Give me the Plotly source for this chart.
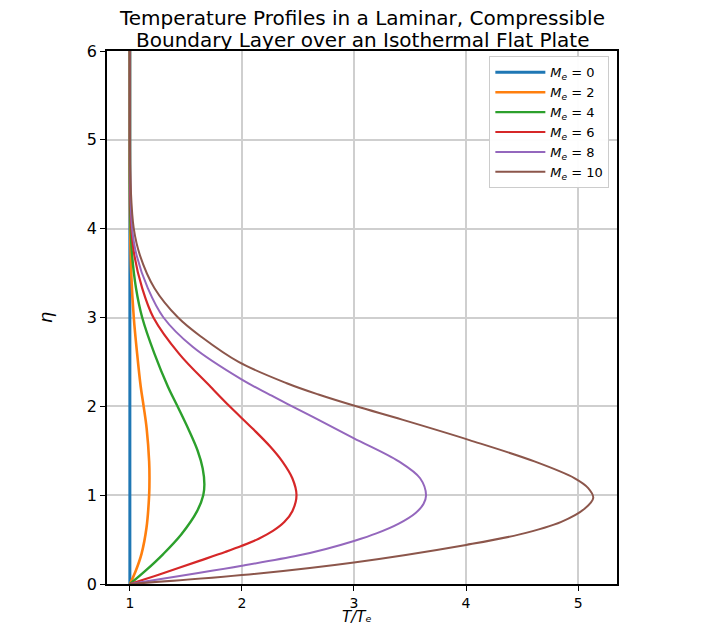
import plotly.graph_objects as go

mach_labels = ["0", "2", "4", "6", "8", "10"]
colors = ["#1f77b4", "#ff7f0e", "#2ca02c", "#d62728", "#9467bd", "#8c564b"]
widths = [3, 2.6, 2.4, 2.2, 2.0, 2.0]

# temperature ratio T/Te and similarity coordinate eta
T_m0 = [1.0, 1.0]
eta_m0 = [0.0, 6.0]

T_m2 = [1.0, 1.053, 1.104, 1.148, 1.172, 1.175, 1.172, 1.15, 1.123, 1.097, 1.065, 1.035, 1.012, 1.003, 1.0, 1.0]
eta_m2 = [0.0, 0.15, 0.34, 0.63, 1.0, 1.2, 1.38, 1.75, 2.0, 2.22, 2.59, 3.0, 3.5, 4.0, 4.5, 6.0]

T_m4 = [1.0, 1.14, 1.30, 1.46, 1.60, 1.655, 1.665, 1.65, 1.605, 1.52, 1.425, 1.34, 1.22, 1.11, 1.055, 1.02, 1.007, 1.0, 1.0]
eta_m4 = [0.0, 0.15, 0.34, 0.56, 0.82, 1.0, 1.12, 1.3, 1.5, 1.75, 2.0, 2.22, 2.59, 3.0, 3.33, 3.7, 4.0, 4.5, 6.0]

T_m6 = [1.0, 1.27, 1.62, 1.85, 2.0, 2.15, 2.28, 2.38, 2.45, 2.487, 2.45, 2.36, 2.25, 2.095, 1.89, 1.72, 1.44, 1.21, 1.11, 1.04, 1.014, 1.002, 1.0, 1.0]
eta_m6 = [0.0, 0.11, 0.26, 0.36, 0.43, 0.51, 0.6, 0.7, 0.82, 1.0, 1.19, 1.38, 1.55, 1.75, 2.0, 2.22, 2.59, 3.0, 3.33, 3.7, 4.0, 4.5, 5.0, 6.0]

T_m8 = [1.0, 2.0, 2.5, 2.75, 3.0, 3.2, 3.4, 3.55, 3.62, 3.643, 3.59, 3.40, 3.0, 2.68, 2.40, 2.25, 2.0, 1.56, 1.30, 1.16, 1.06, 1.02, 1.004, 1.0, 1.0]
eta_m8 = [0.0, 0.205, 0.32, 0.395, 0.485, 0.57, 0.68, 0.80, 0.9, 1.0, 1.19, 1.38, 1.64, 1.85, 2.03, 2.13, 2.3, 2.67, 3.0, 3.33, 3.7, 4.0, 4.5, 5.0, 6.0]

T_m10 = [1.0, 2.0, 3.0, 4.0, 4.47, 4.85, 5.06, 5.135, 5.09, 4.97, 4.61, 4.03, 3.43, 3.02, 2.69, 2.40, 1.97, 1.64, 1.43, 1.22, 1.09, 1.035, 1.008, 1.001, 1.0]
eta_m10 = [0.0, 0.10, 0.243, 0.44, 0.556, 0.70, 0.85, 0.97, 1.08, 1.19, 1.38, 1.62, 1.85, 2.0, 2.13, 2.26, 2.5, 2.78, 3.0, 3.33, 3.7, 4.0, 4.45, 5.0, 6.0]

series_T = [T_m0, T_m2, T_m4, T_m6, T_m8, T_m10]
series_eta = [eta_m0, eta_m2, eta_m4, eta_m6, eta_m8, eta_m10]

x_ticks = [1, 2, 3, 4, 5]
y_ticks = [0, 1, 2, 3, 4, 5, 6]

title_lines = ["Temperature Profiles in a Laminar, Compressible",
               "Boundary Layer over an Isothermal Flat Plate"]

fig = go.Figure()
for lab, col, w, T, eta in zip(mach_labels, colors, widths, series_T, series_eta):
    fig.add_trace(go.Scatter(
        x=T, y=eta, mode="lines",
        line=dict(color=col, width=w, shape="spline", smoothing=1.0),
        name=f"<i>M<sub>e</sub></i> = {lab}",
    ))

font_family = "DejaVu Sans, sans-serif"
top_m, bot_m = 51, 44
plot_h = 628.0 - top_m - bot_m
fig.update_layout(
    width=716, height=628,
    margin=dict(l=107, r=99, t=top_m, b=bot_m),
    paper_bgcolor="white", plot_bgcolor="white",
    font=dict(family=font_family, color="black", size=15),
    legend=dict(
        x=0.985, xanchor="right", y=0.99, yanchor="top",
        bgcolor="rgba(255,255,255,0.95)", bordercolor="#cccccc", borderwidth=1,
        font=dict(size=13, family=font_family),
        tracegroupgap=0, itemwidth=50,
    ),
    showlegend=True,
)
for i, line in enumerate(title_lines):
    fig.add_annotation(
        text=line, xref="paper", yref="paper", x=0.5, xanchor="center",
        y=1.0 + (33 - 22 * i) / plot_h, yanchor="middle", showarrow=False,
        font=dict(size=20, family=font_family, color="black"),
    )
fig.add_annotation(
    text="<i>T/T\u2091</i>", xref="paper", yref="paper",
    x=0.49, xanchor="center", y=-(bot_m - 1) / plot_h, yanchor="bottom",
    showarrow=False, borderpad=0,
    font=dict(size=15, family=font_family, color="black"),
)
fig.update_xaxes(
    range=[0.796, 5.347], tickvals=x_ticks, ticktext=[str(v) for v in x_ticks],
    showgrid=True, gridcolor="#cfcfcf", gridwidth=1.5,
    showline=True, linecolor="black", linewidth=1.5, mirror=True,
    ticks="outside", ticklen=5, tickcolor="black", zeroline=False,
    tickfont=dict(size=14), automargin=False,
)
fig.update_yaxes(
    range=[0, 6], tickvals=y_ticks, ticktext=[str(v) for v in y_ticks],
    showgrid=True, gridcolor="#cfcfcf", gridwidth=1.5,
    showline=True, linecolor="black", linewidth=1.5, mirror=True,
    ticks="outside", ticklen=5, tickcolor="black", zeroline=False,
    title=dict(text="<i>η</i>", standoff=30, font=dict(size=18)),
    tickfont=dict(size=16), automargin=False,
)

fig.write_html("out.html")
